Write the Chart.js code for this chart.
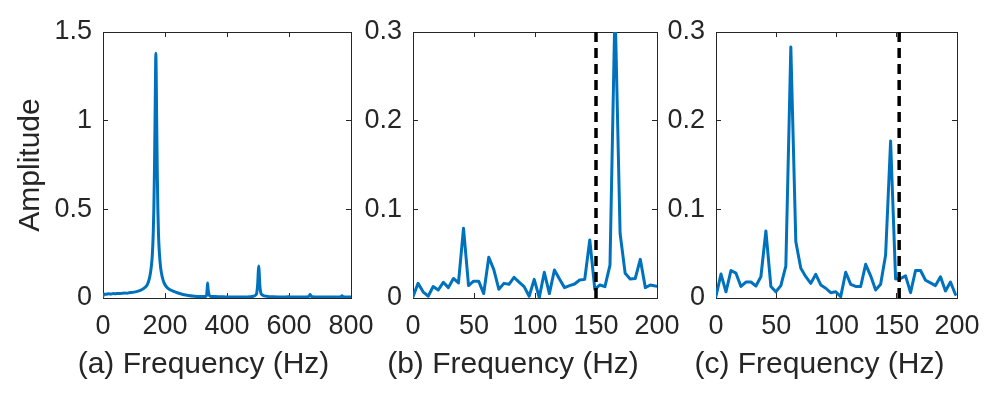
<!DOCTYPE html>
<html>
<head>
<meta charset="utf-8">
<script src="https://cdn.jsdelivr.net/npm/chart.js@4"></script>
<style>
  html, body { margin: 0; padding: 0; background: #fff; }
  #wrap { position: relative; width: 996px; height: 398px; }
  #wrap canvas { position: absolute; left: 0; top: 0; }
</style>
</head>
<body>
<div id="wrap">
  <canvas id="chartA" width="996" height="398"></canvas>
  <canvas id="chartB" width="996" height="398"></canvas>
  <canvas id="chartC" width="996" height="398"></canvas>
</div>
<script>
// panel (a): full spectrum, 0-800 Hz
const freqA = [0, 3, 10, 18, 25, 33, 40, 48, 55, 63, 70, 78, 85, 92, 100, 108, 115, 122, 130, 137,
  143, 148, 152, 156, 159, 162, 164, 166, 168, 169.5, 170.5, 171.5, 173, 175, 177, 179, 182, 186, 191, 197,
  205, 215, 228, 242, 258, 275, 295, 315, 330, 334, 336, 337.5, 339, 342, 346, 360, 380, 400, 420, 440,
  460, 475, 485, 492, 496, 499, 501, 502.5, 504, 506, 509, 513, 520, 530, 550, 575, 598, 600, 602, 625,
  650, 662, 666, 668, 670, 674, 700, 730, 755, 768, 771, 774, 785, 800]
const ampA = [0.01, 0.022, 0.021, 0.024, 0.022, 0.025, 0.024, 0.026, 0.025, 0.027, 0.028, 0.027, 0.030, 0.031, 0.033, 0.036, 0.040, 0.045, 0.052, 0.062,
  0.075, 0.1, 0.13, 0.18, 0.24, 0.36, 0.5, 0.72, 1.02, 1.28, 1.38, 1.28, 1.02, 0.72, 0.5, 0.36, 0.25, 0.17, 0.12, 0.085,
  0.062, 0.048, 0.037, 0.028, 0.02, 0.014, 0.01, 0.008, 0.008, 0.014, 0.05, 0.085, 0.05, 0.02, 0.01, 0.008, 0.007, 0.006, 0.006, 0.005,
  0.006, 0.007, 0.01, 0.016, 0.03, 0.08, 0.15, 0.18, 0.14, 0.07, 0.03, 0.018, 0.012, 0.009, 0.007, 0.006, 0.007, 0.009, 0.006, 0.005,
  0.005, 0.007, 0.014, 0.02, 0.014, 0.007, 0.005, 0.005, 0.005, 0.008, 0.013, 0.008, 0.005, 0.006]

// panels (b) and (c): zoomed spectra, one value per FFT bin
const binHz = 4.14
const ampB = [0.0015, 0.0165, 0.007, 0.002, 0.013, 0.009, 0.0177, 0.0117, 0.022, 0.017,
  0.0786, 0.014, 0.019, 0.019, 0.005, 0.046, 0.032, 0.0098, 0.0165, 0.0154,
  0.0233, 0.018, 0.0128, 0.002, 0.021, 0.0004, 0.029, 0.005, 0.0316, 0.0214,
  0.0117, 0.0139, 0.0158, 0.0203, 0.021, 0.0654, 0.0098, 0.0147, 0.0128, 0.037,
  0.33, 0.073, 0.028, 0.0214, 0.022, 0.0436, 0.0117, 0.0147, 0.0135, 0.013]
const ampC = [0.002, 0.027, 0.007, 0.031, 0.028, 0.013, 0.018, 0.018, 0.0135, 0.024,
  0.0756, 0.013, 0.007, 0.014, 0.036, 0.283, 0.0635, 0.0335, 0.024, 0.0165,
  0.0267, 0.0147, 0.011, 0.006, 0.007, 0.0015, 0.029, 0.0154, 0.013, 0.013,
  0.038, 0.025, 0.009, 0.0154, 0.0485, 0.177, 0.0214, 0.022, 0.025, 0.006,
  0.031, 0.031, 0.02, 0.017, 0.014, 0.024, 0.008, 0.018, 0.004]
const freqB = ampB.map((_, i) => i * binHz)
const freqC = ampC.map((_, i) => i * binHz)

// dashed reference lines
const markB = 150
const markC = 152

const xLabels = ['(a) Frequency (Hz)', '(b) Frequency (Hz)', '(c) Frequency (Hz)']

const INK = '#262626'
const BLUE = '#0072BD'
const FONT = 'Liberation Sans, Arial, Helvetica, sans-serif'

// xlabel drawn under each axes, slightly left of centre like the original figure
const xLabelPlugin = {
  id: 'xlabel',
  afterDraw (chart, args, opts) {
    const { ctx, chartArea } = chart
    ctx.save()
    ctx.font = '30px ' + FONT
    ctx.fillStyle = INK
    ctx.textAlign = 'center'
    ctx.textBaseline = 'alphabetic'
    ctx.fillText(opts.text, (chartArea.left + chartArea.right) / 2 + opts.dx, 373)
    ctx.restore()
  }
}

function pts (xs, ys) {
  return xs.map((x, i) => ({ x, y: ys[i] }))
}

function squash (s) {
  s.paddingLeft = 0; s.paddingRight = 0; s.paddingTop = 0; s.paddingBottom = 0
}

// matlab style tick text: 1 instead of 1.0
const plainTick = v => String(Number(v.toFixed(3)))

function makeChart (id, area, datasets, xMax, xStep, yMax, yStep, yTitle, label, dx) {
  const tickFont = { family: FONT, size: 27 }
  const grid = { drawOnChartArea: false, tickLength: -5, color: INK, lineWidth: 1 }
  const border = { color: INK, width: 1 }
  return new Chart(document.getElementById(id), {
    type: 'line',
    data: { datasets },
    options: {
      responsive: false,
      animation: false,
      events: [],
      layout: { padding: { left: area.left - 90, right: 996 - area.right, top: area.top, bottom: 398 - area.bottom - 40 } },
      plugins: { legend: { display: false }, tooltip: { enabled: false }, xlabel: { text: label, dx } },
      scales: {
        x: {
          type: 'linear', position: 'bottom', min: 0, max: xMax,
          ticks: { stepSize: xStep, font: tickFont, color: INK, padding: 17, maxRotation: 0, autoSkip: false, callback: plainTick },
          grid, border,
          afterFit (s) { s.height = 40; squash(s) }
        },
        x2: {
          type: 'linear', position: 'top', min: 0, max: xMax,
          ticks: { display: false, stepSize: xStep },
          grid, border,
          afterFit (s) { s.height = 0; squash(s) }
        },
        y: {
          type: 'linear', position: 'left', min: 0, max: yMax,
          ticks: { stepSize: yStep, font: tickFont, color: INK, padding: 16, callback: plainTick },
          title: { display: !!yTitle, text: yTitle || '', color: INK, font: { family: FONT, size: 30 }, padding: { top: 0, bottom: 0 } },
          grid, border,
          afterFit (s) { s.width = 90; squash(s) }
        },
        y2: {
          type: 'linear', position: 'right', min: 0, max: yMax,
          ticks: { display: false, stepSize: yStep },
          grid, border,
          afterFit (s) { s.width = 0; squash(s) }
        }
      }
    },
    plugins: [xLabelPlugin]
  })
}

function spectrum (data, smooth) {
  const ds = { data, borderColor: BLUE, borderWidth: 3, borderJoinStyle: 'round', borderCapStyle: 'round', pointRadius: 0, tension: 0, xAxisID: 'x', yAxisID: 'y' }
  if (smooth) ds.cubicInterpolationMode = 'monotone'
  return ds
}

function dashed (f, top) {
  return { data: [{ x: f, y: top }, { x: f, y: 0 }], borderColor: '#000', borderWidth: 3.5, borderDash: [10, 6], pointRadius: 0, xAxisID: 'x', yAxisID: 'y' }
}

makeChart('chartA', { left: 103, right: 351, top: 32, bottom: 298 },
  [spectrum(pts(freqA, ampA), true)], 800, 200, 1.5, 0.5, 'Amplitude', xLabels[0], -23.5)

makeChart('chartB', { left: 413, right: 657, top: 32, bottom: 298 },
  [dashed(markB, 0.3), spectrum(pts(freqB, ampB))], 200, 50, 0.3, 0.1, null, xLabels[1], -22)

makeChart('chartC', { left: 716, right: 957, top: 32, bottom: 298 },
  [dashed(markC, 0.3), spectrum(pts(freqC, ampC))], 200, 50, 0.3, 0.1, null, xLabels[2], -17)
</script>
</body>
</html>
